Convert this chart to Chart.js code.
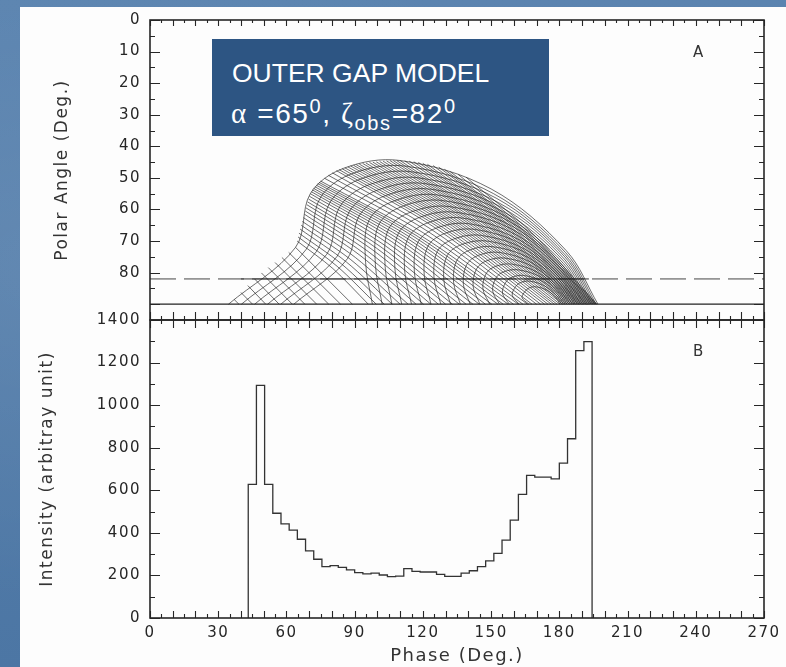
<!DOCTYPE html>
<html>
<head>
<meta charset="utf-8">
<script src="https://cdn.jsdelivr.net/npm/chart.js@4.4.1/dist/chart.umd.min.js"></script>
<style>
  html, body { margin: 0; padding: 0; }
  body {
    width: 786px; height: 667px; overflow: hidden; position: relative;
    background:
      radial-gradient(ellipse at 10% 40%, rgba(255,255,255,0.08), rgba(255,255,255,0) 60%),
      linear-gradient(180deg, #5b84b0 0%, #4c76a4 100%);
  }
  #panel { position: absolute; left: 20px; top: 7px; width: 766px; height: 660px; background: #fdfdfd; }
  canvas { position: absolute; left: 0; top: 0; }
  #box {
    position: absolute; left: 212px; top: 39px; width: 337px; height: 97px;
    background: #2d5583; color: #fff; font-family: "Liberation Sans", Arial, sans-serif; font-size: 26.5px;
  }
  #box div { position: absolute; line-height: 26px; white-space: nowrap; }
  #box .l2 { font-size: 28px; letter-spacing: 1.6px; }
  #box sup, #box sub { font-size: 20px; line-height: 0; }
  #box .gr { font-family: "Liberation Serif", serif; font-size: 29px; }
</style>
</head>
<body>
<div id="panel"></div>
<canvas id="plotA" width="786" height="667"></canvas>
<canvas id="plotB" width="786" height="667"></canvas>
<div id="box">
  <div style="top:21px; left:20px">OUTER GAP MODEL</div>
  <div class="l2" style="top:61px; left:19px"><span class="gr">α</span> =65<sup>0</sup>, <span class="gr">ζ</span><sub>obs</sub>=82<sup>0</sup></div>
</div>
<script>
// ---- panel B: intensity histogram, 3.6 deg bins starting at 43.2 deg
var binStart = 43.2;
var binWidth = 3.6;
var intensity = [628, 1093, 628, 492, 442, 413, 370, 315, 276, 241, 246, 238, 226, 213,
                 207, 211, 202, 194, 197, 232, 219, 216, 216, 205, 196, 196, 211, 222,
                 241, 268, 304, 366, 460, 581, 670, 662, 662, 654, 728, 842, 1256, 1298];

// ---- panel A: emission map, curves as [phase, polar angle]
var arcCurves = [
  [[34.5,90],[64,72],[70.5,55],[85,47],[110,44.5],[150,53.5],[183,73],[197,90]],
  [[40.2,90],[68.6,72.7],[74.8,56.4],[88.7,48.7],[112.7,46.3],[151.1,55],[182.8,73.7],[196.2,90]],
  [[46,90],[73.1,73.4],[79.1,57.8],[92.4,50.4],[115.4,48.1],[152.2,56.4],[182.6,74.4],[195.5,90]],
  [[51.7,90],[77.7,74.2],[83.4,59.2],[96.2,52.2],[118.2,50],[153.4,57.9],[182.4,75],[194.7,90]],
  [[57.5,90],[82.2,74.9],[87.7,60.6],[99.9,53.9],[120.9,51.8],[154.5,59.3],[182.2,75.7],[194,90]],
  [[63.2,90],[86.8,75.6],[92,62],[103.6,55.6],[123.6,53.6],[155.6,60.8],[182,76.4],[193.2,90]],
  [[97.8,90],[94.8,76.7],[96.3,63.4],[107.3,57.3],[126.3,55.4],[156.7,62.3],[181.8,77.1],[192.4,90]],
  [[102.1,90],[99.1,77.4],[100.6,64.8],[111,59],[129,57.2],[157.8,63.7],[181.6,77.8],[191.7,90]],
  [[106.4,90],[103.4,78.1],[104.9,66.2],[114.8,60.8],[131.8,59.1],[159,65.2],[181.4,78.4],[190.9,90]],
  [[110.7,90],[107.7,78.8],[109.2,67.6],[118.5,62.5],[134.5,60.9],[160.1,66.6],[181.2,79.1],[190.2,90]],
  [[115,90],[112,79.5],[113.5,69],[122.2,64.2],[137.2,62.7],[161.2,68.1],[181,79.8],[189.4,90]],
  [[119.3,90],[116.3,80.2],[117.8,70.4],[125.9,65.9],[139.9,64.5],[162.3,69.6],[180.8,80.5],[188.6,90]],
  [[123.6,90],[120.6,80.9],[122.1,71.8],[129.6,67.6],[142.6,66.3],[163.4,71],[180.6,81.2],[187.9,90]],
  [[127.9,90],[124.9,81.6],[126.4,73.2],[133.4,69.4],[145.4,68.2],[164.6,72.5],[180.4,81.8],[187.1,90]],
  [[132.2,90],[129.2,82.3],[130.7,74.6],[137.1,71.1],[148.1,70],[165.7,73.9],[180.2,82.5],[186.4,90]],
  [[136.5,90],[133.5,83],[135,76],[140.8,72.8],[150.8,71.8],[166.8,75.4],[180,83.2],[185.6,90]],
  [[140.8,90],[137.8,83.7],[139.3,77.4],[144.5,74.5],[153.5,73.6],[167.9,76.9],[179.8,83.9],[184.8,90]],
  [[145.1,90],[142.1,84.4],[143.6,78.8],[148.2,76.2],[156.2,75.4],[169,78.3],[179.6,84.6],[184.1,90]],
  [[149.4,90],[146.4,85.1],[147.9,80.2],[152,78],[159,77.3],[170.2,79.8],[179.4,85.2],[183.3,90]],
  [[153.7,90],[150.7,85.8],[152.2,81.6],[155.7,79.7],[161.7,79.1],[171.3,81.2],[179.2,85.9],[182.6,90]],
  [[158,90],[155,86.5],[156.5,83],[159.4,81.4],[164.4,80.9],[172.4,82.7],[179,86.6],[181.8,90]],
  [[162.3,90],[159.3,87.2],[160.8,84.4],[163.1,83.1],[167.1,82.7],[173.5,84.2],[178.8,87.3],[181,90]],
  [[166.6,90],[163.6,87.9],[165.1,85.8],[166.8,84.8],[169.8,84.5],[174.6,85.6],[178.6,88],[180.3,90]]
];
var triangleHatch = [
  [[37,88.5],[39.1,90]], [[40,86.3],[45.1,90]], [[43,84.1],[50.9,90]], [[46,82],[56.8,90]],
  [[49,80.1],[62.6,90]], [[52,78.4],[68.1,90]], [[55,76.8],[73.3,90]], [[58,75.2],[78.6,90]],
  [[61,73.6],[83.8,90]], [[64,72],[89,90]]
];
var edgeHatch = [
  [[64.7,70],[80.4,78.7],[96,90]],
  [[65.1,68.7],[82.3,78],[99.5,90]],
  [[65.5,67.5],[84.3,77.3],[103,90]],
  [[66,66.2],[86.3,76.6],[106.5,90]],
  [[66.5,65],[88.3,75.9],[110,90]],
  [[67,63.8],[90.3,75.2],[113.5,90]],
  [[67.5,62.6],[92.3,74.5],[117,90]],
  [[67.9,61.5],[94.1,73.9],[120.3,90]],
  [[68.3,60.5],[95.9,73.3],[123.5,90]],
  [[68.6,59.5],[97.7,72.7],[126.8,90]],
  [[69,58.5],[99.5,72.2],[130,90]],
  [[69.3,57.6],[101.2,71.7],[133,90]],
  [[69.7,56.7],[102.9,71.2],[136,90]],
  [[70.1,55.8],[104.6,70.7],[139,90]],
  [[70.5,55],[106.3,70.2],[142,90]],
  [[71,54.4],[107.9,69.8],[144.8,90]],
  [[71.4,53.8],[109.5,69.5],[147.5,90]],
  [[71.9,53.3],[111.1,69.2],[150.3,90]],
  [[72.5,52.8],[112.8,69],[153,90]],
  [[73.1,52.3],[114.2,68.7],[155.3,90]],
  [[73.7,51.8],[115.6,68.4],[157.5,90]],
  [[74.3,51.4],[117,68.2],[159.8,90]],
  [[75,51],[118.5,68],[162,90]]
];
var capHatch = [
  [[76.7,50.1],[120.4,67.5],[164,90]],
  [[78.5,49.2],[122.3,67],[166,90]],
  [[80.2,48.4],[124.1,66.5],[168,90]],
  [[82,47.7],[126,66.1],[170,90]],
  [[83.2,47.4],[127.5,65.9],[171.8,90]],
  [[84.5,47.1],[129,65.8],[173.5,90]],
  [[85.7,46.8],[130.4,65.6],[175,90]],
  [[87,46.5],[131.8,65.4],[176.5,90]],
  [[88.2,46.2],[133,65.2],[177.8,90]],
  [[89.5,46],[134.3,65.1],[179,90]],
  [[90.7,45.8],[135.5,65],[180.3,90]],
  [[92,45.6],[136.8,64.9],[181.5,90]],
  [[93.5,45.4],[138,64.8],[182.5,90]],
  [[95,45.3],[139.3,64.7],[183.5,90]],
  [[96.5,45.1],[140.5,64.6],[184.5,90]],
  [[98,45],[141.8,64.6],[185.5,90]],
  [[99.5,44.9],[142.9,64.5],[186.3,90]],
  [[101,44.8],[144,64.5],[187,90]],
  [[102.5,44.7],[145.1,64.4],[187.8,90]],
  [[104,44.6],[146.3,64.3],[188.5,90]],
  [[105.5,44.5],[147.3,64.3],[189.1,90]],
  [[107,44.5],[148.4,64.3],[189.7,90]],
  [[108.5,44.5],[149.4,64.3],[190.3,90]],
  [[110,44.5],[150.4,64.3],[190.8,90]],
  [[112,44.6],[151.7,64.3],[191.4,90]],
  [[114,44.7],[153,64.4],[192,90]],
  [[116,44.9],[154.3,64.5],[192.5,90]],
  [[118,45.1],[155.5,64.6],[193,90]],
  [[120,45.4],[156.8,64.8],[193.5,90]],
  [[122,45.7],[158,65],[194,90]],
  [[124.5,46.1],[159.5,65.2],[194.5,90]],
  [[127,46.6],[161,65.5],[195,90]],
  [[129.5,47.3],[162.5,65.9],[195.4,90]],
  [[132,48],[163.9,66.3],[195.8,90]],
  [[135.5,48.9],[165.8,66.8],[196.2,90]],
  [[139,49.8],[167.8,67.3],[196.5,90]]
];
var observerAngle = 82;   // zeta_obs
var solidObserver = [40, 193];

var phaseRange = [0, 270];
var angleRange = [0, 95];
var intensityRange = [0, 1400];

var tickFont = { family: 'DejaVu Sans', size: 15 };
var titleFont = { family: 'DejaVu Sans', size: 17 };
var inkColor = '#262626';
var meshColor = 'rgba(25,25,25,0.8)';

// frame, inward tick marks and the panel letter, placed with the chart's scales
var frameTicks = {
  id: 'frameTicks',
  beforeDraw: function(chart) {
    chart.ctx.letterSpacing = '1.5px';
  },
  afterDatasetsDraw: function(chart, args, o) {
    var ctx = chart.ctx, a = chart.chartArea, x = chart.scales.x, y = chart.scales.y;
    var v, px, py, len;
    ctx.save();
    ctx.strokeStyle = inkColor;
    ctx.lineWidth = 1.1;
    ctx.beginPath();
    for (v = phaseRange[0]; v <= phaseRange[1]; v += 5) {
      px = Math.round(x.getPixelForValue(v)) + 0.5;
      len = v % 10 === 0 ? o.top[0] : o.top[1];
      ctx.moveTo(px, a.top); ctx.lineTo(px, a.top + len);
      len = v % 10 === 0 ? o.bottom[0] : o.bottom[1];
      ctx.moveTo(px, a.bottom); ctx.lineTo(px, a.bottom - len);
    }
    for (v = y.min; v <= y.max + 1e-9; v += o.yMinor) {
      py = Math.round(y.getPixelForValue(v)) + 0.5;
      len = v % o.yMajor === 0 ? 10 : 5;
      ctx.moveTo(a.left, py); ctx.lineTo(a.left + len, py);
      ctx.moveTo(a.right, py); ctx.lineTo(a.right - len, py);
    }
    ctx.stroke();
    ctx.lineWidth = 1.6;
    ctx.strokeRect(a.left, a.top, a.right - a.left, a.bottom - a.top);
    ctx.fillStyle = '#333';
    ctx.font = '15px "DejaVu Sans"';
    ctx.textAlign = 'center';
    ctx.textBaseline = 'middle';
    ctx.fillText(o.label, a.right - 65, a.top + o.labelDy);
    ctx.restore();
  }
};

function curveSet(curves, tension) {
  return curves.map(function(c) {
    return {
      data: c.map(function(p) { return { x: p[0], y: p[1] }; }),
      borderColor: meshColor, borderWidth: 0.8, tension: tension,
      pointRadius: 0, fill: false
    };
  });
}

function plainLabel(v) { return String(v); }

var datasetsA = [].concat(
  curveSet(arcCurves, 0.35),
  curveSet(triangleHatch, 0),
  curveSet(edgeHatch, 0.3),
  curveSet(capHatch, 0.3),
  [
    { data: [{ x: phaseRange[0], y: observerAngle }, { x: phaseRange[1], y: observerAngle }],
      borderColor: '#444', borderWidth: 1, borderDash: [26, 8], pointRadius: 0 },
    { data: [{ x: solidObserver[0], y: observerAngle }, { x: solidObserver[1], y: observerAngle }],
      borderColor: '#333', borderWidth: 1, pointRadius: 0 },
    { data: [{ x: phaseRange[0], y: 90 }, { x: phaseRange[1], y: 90 }],
      borderColor: '#222', borderWidth: 1.3, pointRadius: 0 }
  ]
);

var histPoints = [{ x: binStart, y: 0 }];
for (var i = 0; i < intensity.length; i++) {
  histPoints.push({ x: binStart + i * binWidth, y: intensity[i] });
}
histPoints.push({ x: binStart + intensity.length * binWidth, y: 0 });

new Chart(document.getElementById('plotA'), {
  type: 'line',
  data: { datasets: datasetsA },
  options: {
    responsive: false, animation: false, events: [],
    layout: { padding: { left: 0, top: 20, right: 22, bottom: 347 } },
    plugins: {
      legend: { display: false }, tooltip: { enabled: false },
      frameTicks: { top: [6, 3], bottom: [8, 4], yMinor: 5, yMajor: 10, label: 'A', labelDy: 33 }
    },
    scales: {
      x: { type: 'linear', min: phaseRange[0], max: phaseRange[1], display: false },
      y: {
        type: 'linear', reverse: true, min: angleRange[0], max: angleRange[1],
        afterFit: function(s) { s.width = 150; },
        grid: { display: false, drawTicks: false }, border: { display: false },
        ticks: {
          stepSize: 10, padding: 9, color: inkColor, font: tickFont,
          callback: function(v) { return v % 10 === 0 && v <= 90 ? String(v) : null; }
        },
        title: { display: true, text: 'Polar Angle (Deg.)', color: '#333', font: titleFont,
                 padding: { top: 52, bottom: 0 } }
      }
    }
  },
  plugins: [frameTicks]
});

new Chart(document.getElementById('plotB'), {
  type: 'line',
  data: {
    datasets: [{
      data: histPoints, stepped: true, borderColor: '#333', borderWidth: 1.3,
      pointRadius: 0, fill: false
    }]
  },
  options: {
    responsive: false, animation: false, events: [],
    layout: { padding: { left: 0, top: 320, right: 22, bottom: 0 } },
    plugins: {
      legend: { display: false }, tooltip: { enabled: false },
      frameTicks: { top: [8, 4], bottom: [7, 4], yMinor: 100, yMajor: 200, label: 'B', labelDy: 32 }
    },
    scales: {
      x: {
        type: 'linear', min: phaseRange[0], max: phaseRange[1],
        afterFit: function(s) { s.height = 49; },
        grid: { display: false, drawTicks: false }, border: { display: false },
        ticks: { stepSize: 30, padding: 6, autoSkip: false, maxRotation: 0, color: inkColor,
                 font: tickFont, callback: plainLabel },
        title: { display: true, text: 'Phase (Deg.)', color: '#333',
                 font: { family: 'DejaVu Sans', size: 18 }, padding: { top: 0, bottom: 0 } }
      },
      y: {
        type: 'linear', min: intensityRange[0], max: intensityRange[1],
        afterFit: function(s) { s.width = 150; },
        grid: { display: false, drawTicks: false }, border: { display: false },
        ticks: { stepSize: 200, padding: 9, color: inkColor, font: tickFont, callback: plainLabel },
        title: { display: true, text: 'Intensity (arbitray unit)', color: '#333', font: titleFont,
                 padding: { top: 37, bottom: 0 } }
      }
    }
  },
  plugins: [frameTicks]
});
</script>
</body>
</html>
